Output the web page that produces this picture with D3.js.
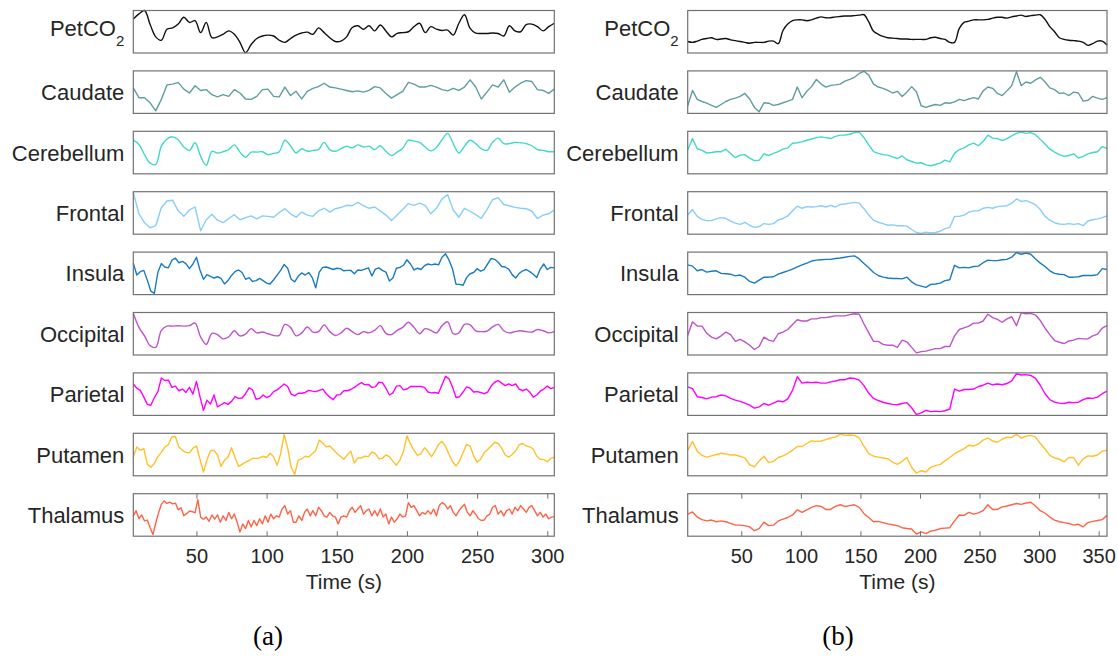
<!DOCTYPE html>
<html>
<head>
<meta charset="utf-8">
<script src="https://cdn.jsdelivr.net/npm/d3@7"></script>
<style>
  body { margin: 0; background: #fff; }
  svg { display: block; }
</style>
</head>
<body>
<svg class="chart" width="1118" height="657"></svg>
<script>
/*global d3*/
var svg = d3.select(".chart");

// region names, top to bottom
var regions = ["PetCO2", "Caudate", "Cerebellum", "Frontal", "Insula", "Occipital", "Parietal", "Putamen", "Thalamus"];
var colors = ["#111111", "#5f9ea0", "#40d9c9", "#87cefa", "#1a7cc0", "#c052cc", "#ff00ff", "#ffc12b", "#ff6347"];
// rows drawn with a smoothed curve, per panel
var smoothA = ["PetCO2", "Cerebellum", "Occipital"];
var smoothB = ["PetCO2"];

var ticksA = [50, 100, 150, 200, 250, 300];
var ticksB = [50, 100, 150, 200, 250, 300, 350];

// (a) signals, 0-100 within each box; samples are evenly spaced over 5-305 s
var petco2A = [80,92,100,67,38,30,56,59,68,84,72,76,48,72,36,38,44,52,44,25,1,20,34,40,42,40,30,25,34,42,47,49,44,59,48,36,27,28,38,60,64,56,64,52,66,52,38,46,48,50,62,70,48,62,56,53,54,42,70,90,58,47,46,46,47,46,40,64,52,50,67,68,62,52,62,70];
var caudateA = [60,37,37,25,6,33,67,69,73,57,48,65,54,56,44,39,44,40,56,48,34,33,40,56,57,40,39,62,42,52,34,52,59,63,71,62,60,57,54,51,53,50,54,63,60,47,36,44,52,73,69,62,62,66,62,56,53,59,54,62,79,62,34,50,67,62,79,50,62,71,77,75,56,54,47,57];
var cerebellumA = [79,69,45,25,22,65,82,87,80,63,55,73,41,20,53,49,52,57,68,51,39,51,51,52,45,48,52,79,66,49,59,53,55,57,74,57,53,59,65,61,68,63,65,57,66,53,43,51,60,79,77,74,63,54,62,80,95,71,49,65,79,71,59,55,74,84,71,71,74,73,71,66,57,55,52,52];
var frontalA = [98,48,27,15,20,63,78,80,55,42,57,64,8,34,47,33,27,37,46,34,39,43,36,43,42,40,51,60,48,40,52,45,42,55,61,52,60,63,68,67,75,67,61,64,55,45,32,45,58,72,68,73,68,48,61,83,93,57,40,61,54,46,37,58,81,86,70,67,63,61,60,54,37,45,48,57];
var insulaA = [74,46,54,57,34,8,3,52,73,65,63,81,86,75,78,73,61,72,88,58,36,47,43,39,42,38,25,33,45,54,58,52,36,40,31,33,38,33,27,25,35,46,57,71,62,36,30,43,51,46,52,40,16,53,64,65,62,59,62,61,56,57,57,49,58,57,60,63,44,60,63,57,53,32,39,62,64,69,82,72,58,62,59,68,72,70,72,70,88,96,81,60,24,24,22,40,49,52,61,55,59,72,85,83,76,66,65,60,47,39,50,56,59,54,48,40,60,72,59,64,63];
var occipitalA = [98,65,45,22,18,58,68,68,69,68,69,75,42,25,51,48,38,43,57,45,49,62,52,54,50,46,46,72,65,45,52,66,54,55,71,55,46,52,63,55,48,55,52,58,69,51,48,58,65,77,65,50,62,58,52,69,78,50,52,72,71,57,55,56,66,72,57,52,55,57,55,54,60,57,52,55];
var parietalA = [74,64,59,43,26,24,42,56,88,82,83,66,69,58,62,54,66,50,80,44,12,36,27,48,20,25,30,26,33,44,40,41,51,65,60,38,40,48,42,46,56,60,67,74,68,50,46,52,52,54,59,57,56,59,62,51,43,37,48,49,58,58,61,66,72,77,72,73,66,67,78,77,64,48,53,69,70,60,62,68,68,68,68,66,55,53,54,52,72,92,86,66,42,44,55,67,64,55,56,54,51,55,69,78,82,76,70,74,70,74,62,58,62,55,43,48,57,62,69,63,66];
var putamenA = [44,68,60,64,27,20,29,45,55,68,73,92,92,68,60,55,54,65,70,39,9,38,59,60,49,22,37,44,66,43,22,27,32,36,41,41,42,46,43,53,45,25,52,97,65,20,3,37,40,46,44,52,59,84,77,68,70,62,53,46,39,49,58,30,42,42,46,45,56,52,40,41,49,45,34,25,37,57,94,75,60,48,52,66,57,45,58,74,81,69,50,33,23,35,55,74,70,47,32,39,54,62,70,79,76,65,49,44,50,59,73,76,70,68,63,46,39,38,33,41,44];
var thalamusA = [48,60,41,50,36,38,20,4,31,55,75,83,77,80,76,78,62,67,48,53,59,58,55,86,45,40,45,35,50,40,50,33,48,37,56,41,52,33,10,29,18,37,22,37,25,41,29,48,33,52,41,48,45,64,72,52,60,33,33,48,37,56,64,48,60,48,68,60,48,45,56,48,45,29,45,48,45,60,68,56,64,72,52,60,64,48,60,48,64,45,52,29,45,33,41,52,45,48,79,68,72,60,48,56,52,60,52,64,48,72,79,75,64,72,56,48,60,68,75,56,48,60,52,41,37,38,48,52,68,72,52,60,48,60,64,52,68,60,72,64,56,68,72,60,48,56,45,52,41,45,46];

// (b) signals, 0-100 within each box; samples are evenly spaced over 5-357 s
var petco2B = [27,25,28,32,34,36,32,33,34,31,29,27,25,23,25,25,25,28,28,22,53,68,76,78,78,76,78,82,85,83,83,85,86,87,87,88,89,90,73,51,44,39,36,35,34,33,33,32,32,32,32,36,37,34,32,25,25,58,72,75,78,78,78,79,82,84,84,82,85,87,89,86,88,89,90,79,62,50,36,32,30,29,28,25,18,22,28,28,19];
var caudateB = [18,54,33,28,24,19,14,21,28,33,36,40,47,34,14,4,25,24,19,21,25,29,33,62,37,52,63,80,69,62,66,67,69,76,80,85,94,99,90,69,62,59,54,48,52,40,50,63,51,18,14,18,21,19,25,24,27,33,30,34,37,34,53,62,59,47,42,53,65,98,65,74,71,79,85,74,60,56,47,48,42,50,48,29,31,40,36,33,37];
var cerebellumB = [56,83,59,55,49,50,52,52,58,48,38,44,45,37,31,32,47,43,48,52,58,61,72,73,75,79,82,85,87,85,83,88,91,91,93,97,98,85,68,52,48,45,44,40,36,42,33,29,25,26,21,19,22,25,32,28,48,57,61,68,72,66,76,91,84,83,78,83,89,95,98,95,97,92,81,70,58,51,45,41,43,47,37,41,47,50,52,64,60];
var frontalB = [45,58,42,35,32,32,36,39,37,31,26,23,28,21,16,18,25,23,25,33,37,43,55,66,61,65,64,65,67,64,68,64,70,71,73,75,73,60,45,33,28,25,21,22,20,20,19,11,4,2,5,3,4,7,13,16,42,42,45,52,55,55,61,63,61,65,66,67,73,83,77,79,75,69,58,42,33,27,24,23,25,23,25,20,31,34,36,39,43];
var insulaB = [70,67,56,59,53,55,56,50,49,48,44,46,41,31,27,34,41,41,42,48,52,56,60,65,70,74,79,81,82,83,83,85,86,88,90,91,84,73,63,52,45,41,39,38,38,37,41,30,23,20,17,24,25,27,33,35,69,63,64,63,66,67,75,81,80,80,82,83,88,99,95,98,95,84,74,66,56,50,48,47,41,41,42,45,45,45,47,61,59];
var occipitalB = [46,78,68,68,51,42,38,45,54,48,32,37,31,23,13,20,42,35,32,50,54,60,72,83,80,80,85,85,88,88,90,92,92,92,95,97,96,73,52,32,32,25,23,23,18,35,31,18,5,8,9,12,15,15,20,20,45,60,64,68,75,75,80,96,88,84,77,85,90,69,99,97,98,94,81,63,48,34,30,27,33,35,39,38,38,45,49,63,69];
var parietalB = [67,63,44,42,39,43,44,48,46,40,36,33,29,24,17,20,28,24,29,34,32,39,59,91,76,78,77,78,76,76,79,81,84,84,88,87,83,70,52,40,35,31,28,26,25,28,30,18,2,6,12,9,10,9,11,15,62,57,61,61,62,68,71,76,72,74,72,75,81,98,95,96,94,87,71,51,37,31,29,28,31,30,31,37,41,40,43,51,57];
var putamenB = [60,81,58,48,44,47,50,53,51,49,49,46,42,26,21,35,46,31,34,43,47,53,60,69,69,76,82,81,82,85,89,91,98,95,96,95,89,69,52,46,44,42,40,32,27,34,43,20,6,12,9,20,24,27,35,43,52,58,64,72,70,75,84,89,82,79,86,91,90,98,89,93,95,91,76,63,48,42,39,33,43,43,25,40,47,46,49,58,60];
var thalamusB = [52,57,45,39,36,38,34,36,34,30,26,26,25,22,13,18,33,25,26,36,40,44,50,62,56,62,68,72,70,63,63,70,74,70,72,74,68,53,44,34,35,32,29,27,25,20,18,17,5,10,6,12,14,18,19,20,36,50,49,56,52,55,60,74,63,63,69,71,74,77,75,78,80,71,60,54,45,38,34,32,30,26,28,22,32,35,37,39,49];

var seriesA = [petco2A, caudateA, cerebellumA, frontalA, insulaA, occipitalA, parietalA, putamenA, thalamusA];
var seriesB = [petco2B, caudateB, cerebellumB, frontalB, insulaB, occipitalB, parietalB, putamenB, thalamusB];

var rowTop = 10.5, rowH = 42.5, rowStep = 60.4;
var textColor = "#262626", boxColor = "#727272";
var sansFont = "'Liberation Sans', Arial, Helvetica, sans-serif";

var panels = [
    {left: 133.3, right: 554.3, domain: [5, 305], series: seriesA, smooth: smoothA, ticks: ticksA, tag: "(a)", tagX: 268},
    {left: 687.7, right: 1107, domain: [5, 357], series: seriesB, smooth: smoothB, ticks: ticksB, tag: "(b)", tagX: 838}
];

var yScale = d3.scaleLinear().domain([0, 100]).range([rowH, 0]);

panels.forEach(function (p) {
    var w = p.right - p.left;
    var xScale = d3.scaleLinear().domain(p.domain).range([0, w]);

    var panel = svg.append("g")
        .attr("transform", "translate(" + p.left + "," + rowTop + ")");

    // sample i of an n-point series sits at domain[0] + i * span / (n - 1)
    function lineFor(values, smooth) {
        var step = (p.domain[1] - p.domain[0]) / (values.length - 1);
        return d3.line()
            .x(function (d, i) { return xScale(p.domain[0] + i * step); })
            .y(function (d) { return yScale(d); })
            .curve(smooth ? d3.curveCatmullRom.alpha(0.5) : d3.curveLinear)(values);
    }

    var rows = panel.selectAll(".row")
        .data(regions)
        .enter().append("g")
          .attr("class", "row")
          .attr("transform", function (d, i) { return "translate(0," + i * rowStep + ")"; });

    rows.append("path")
        .attr("d", function (d, i) { return lineFor(p.series[i], p.smooth.indexOf(d) >= 0); })
        .attr("fill", "none")
        .attr("stroke", function (d, i) { return colors[i]; })
        .attr("stroke-width", 1.4)
        .attr("stroke-linejoin", "round");

    rows.append("rect")
        .attr("width", w)
        .attr("height", rowH)
        .attr("fill", "none")
        .attr("stroke", boxColor)
        .attr("stroke-width", 1.2);

    // row labels, right aligned against the box
    var labels = rows.append("text")
        .attr("x", -9)
        .attr("y", rowH / 2 + 8)
        .attr("text-anchor", "end")
        .style("font-family", sansFont)
        .style("font-size", "22px")
        .attr("fill", textColor);

    labels.filter(function (d) { return d !== "PetCO2"; })
        .text(function (d) { return d; });

    var pet = labels.filter(function (d) { return d === "PetCO2"; })
        .attr("y", rowH / 2 + 4);
    pet.append("tspan").text("PetCO");
    pet.append("tspan")
        .attr("dy", 10)
        .style("font-size", "15px")
        .text("2");

    // time axis on the last box: ticks inside, top and bottom
    var lastY = (regions.length - 1) * rowStep;
    var bottomAxis = panel.append("g")
        .attr("transform", "translate(0," + (lastY + rowH) + ")")
        .call(d3.axisBottom(xScale).tickValues(p.ticks).tickSizeInner(-5).tickSizeOuter(0).tickPadding(13));
    var topAxis = panel.append("g")
        .attr("transform", "translate(0," + lastY + ")")
        .call(d3.axisTop(xScale).tickValues(p.ticks).tickSizeInner(-5).tickSizeOuter(0).tickFormat(""));

    [bottomAxis, topAxis].forEach(function (a) {
        a.select(".domain").remove();
        a.selectAll(".tick line").attr("stroke", boxColor);
    });
    bottomAxis.selectAll(".tick text")
        .attr("fill", textColor)
        .style("font-family", sansFont)
        .style("font-size", "20px");

    panel.append("text")
        .attr("x", w / 2)
        .attr("y", lastY + rowH + 53)
        .attr("text-anchor", "middle")
        .style("font-family", sansFont)
        .style("font-size", "21px")
        .attr("fill", textColor)
        .text("Time (s)");

    svg.append("text")
        .attr("x", p.tagX)
        .attr("y", 645)
        .attr("text-anchor", "middle")
        .style("font-family", "'Liberation Serif', 'Times New Roman', serif")
        .style("font-size", "27px")
        .attr("fill", "#000")
        .text(p.tag);
});
</script>
</body>
</html>
